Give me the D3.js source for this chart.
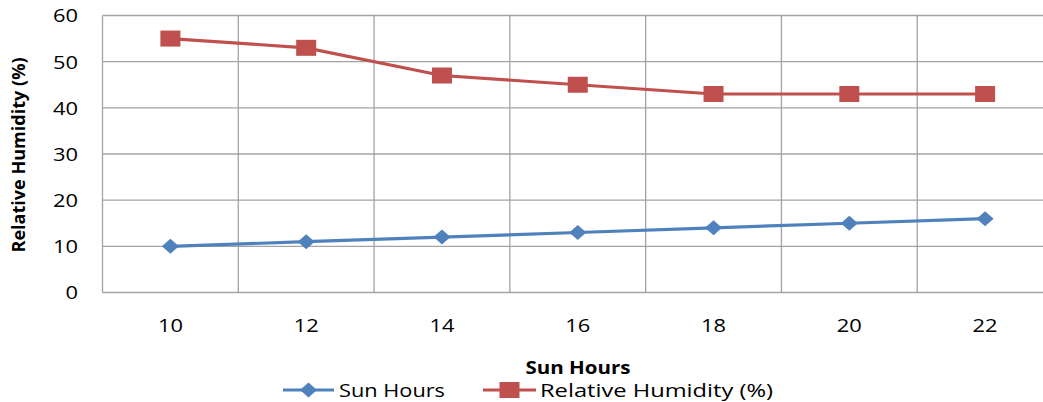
<!DOCTYPE html>
<html>
<head>
<meta charset="utf-8">
<script src="https://cdn.jsdelivr.net/npm/d3@7"></script>
<style>
  body { margin: 0; background: #fff; }
  text { font-family: "Open Sans", "DejaVu Sans", sans-serif; fill: #000; }
</style>
</head>
<body>
<div id="chart"></div>
<script>
const width = 1043;
const height = 402;

// data
const categories = ["10", "12", "14", "16", "18", "20", "22"];
const sunHours = [10, 11, 12, 13, 14, 15, 16];
const humidity = [55, 53, 47, 45, 43, 43, 43];
const yTicks = [0, 10, 20, 30, 40, 50, 60];

const margin = {top: 15.5, left: 102.5, bottom: 109.5};
const plotRight = 1053; // plot runs past the right edge of the picture

const svg = d3.select("#chart").append("svg")
    .attr("width", width)
    .attr("height", height);

const x = d3.scaleBand()
    .domain(categories)
    .range([margin.left, plotRight]);

const y = d3.scaleLinear()
    .domain([0, 60])
    .range([height - margin.bottom, margin.top]);

const grid = svg.append("g")
    .attr("stroke", "#a3a3a3")
    .attr("stroke-width", 1.3);

// horizontal gridlines
grid.selectAll(".h")
    .data(yTicks)
    .join("line")
    .attr("x1", margin.left)
    .attr("x2", plotRight)
    .attr("y1", d => y(d))
    .attr("y2", d => y(d));

// vertical lines between categories (and the left axis)
grid.selectAll(".v")
    .data(categories)
    .join("line")
    .attr("x1", d => x(d))
    .attr("x2", d => x(d))
    .attr("y1", y(60))
    .attr("y2", y(0));

// the original text is a wide, stretched face: widen glyphs to match
const stretch = (sel, w) => sel.attr("textLength", w).attr("lengthAdjust", "spacingAndGlyphs");

// y tick labels
svg.append("g").selectAll("text")
    .data(yTicks)
    .join("text")
    .attr("x", 78)
    .attr("y", d => y(d))
    .attr("dy", "0.36em")
    .attr("text-anchor", "end")
    .style("font-size", "19px")
    .text(d => d)
    .call(stretch, d => String(d).length * 12.5);

// x tick labels
svg.append("g").selectAll("text")
    .data(categories)
    .join("text")
    .attr("x", d => x(d) + x.bandwidth() / 2)
    .attr("y", 325)
    .attr("dy", "0.36em")
    .attr("text-anchor", "middle")
    .style("font-size", "19px")
    .text(d => d)
    .call(stretch, 25);

// axis titles
svg.append("text")
    .attr("x", 578)
    .attr("y", 368)
    .attr("dy", "0.36em")
    .attr("text-anchor", "middle")
    .style("font-size", "18px")
    .style("font-weight", "bold")
    .text("Sun Hours")
    .call(stretch, 105);

svg.append("text")
    .attr("transform", "translate(19,155) rotate(-90)")
    .attr("dy", "0.36em")
    .attr("text-anchor", "middle")
    .style("font-size", "17px")
    .style("font-weight", "bold")
    .text("Relative Humidity (%)")
    .call(stretch, 195);

const cx = d => x(d) + x.bandwidth() / 2;
const line = d3.line().x(d => cx(d.c)).y(d => y(d.v));

const blue = "#4f81bd";
const red = "#c0504d";

const sunData = categories.map((c, i) => ({c, v: sunHours[i]}));
const humData = categories.map((c, i) => ({c, v: humidity[i]}));

const diamond = (w, h) => `M${-w/2},0L0,${-h/2}L${w/2},0L0,${h/2}Z`;

// Sun Hours series
svg.append("path")
    .datum(sunData)
    .attr("fill", "none")
    .attr("stroke", blue)
    .attr("stroke-width", 3.2)
    .attr("d", line);
svg.append("g").selectAll("path")
    .data(sunData)
    .join("path")
    .attr("transform", d => `translate(${cx(d.c)},${y(d.v)})`)
    .attr("d", diamond(17, 15))
    .attr("fill", blue);

// Relative Humidity series
svg.append("path")
    .datum(humData)
    .attr("fill", "none")
    .attr("stroke", red)
    .attr("stroke-width", 3.2)
    .attr("d", line);
svg.append("g").selectAll("rect")
    .data(humData)
    .join("rect")
    .attr("x", d => cx(d.c) - 10)
    .attr("y", d => y(d.v) - 8)
    .attr("width", 20)
    .attr("height", 16)
    .attr("fill", red);

// legend
const legendY = 390;
const lg = svg.append("g");
lg.append("line")
    .attr("x1", 283).attr("x2", 334)
    .attr("y1", legendY).attr("y2", legendY)
    .attr("stroke", blue).attr("stroke-width", 3.2);
lg.append("path")
    .attr("transform", `translate(308.5,${legendY})`)
    .attr("d", diamond(17, 15))
    .attr("fill", blue);
lg.append("text")
    .attr("x", 339).attr("y", legendY)
    .attr("dy", "0.36em")
    .style("font-size", "19px")
    .text("Sun Hours")
    .call(stretch, 106);

lg.append("line")
    .attr("x1", 483).attr("x2", 536)
    .attr("y1", legendY).attr("y2", legendY)
    .attr("stroke", red).attr("stroke-width", 3.2);
lg.append("rect")
    .attr("x", 499.5).attr("y", legendY - 8)
    .attr("width", 20).attr("height", 16)
    .attr("fill", red);
lg.append("text")
    .attr("x", 540).attr("y", legendY)
    .attr("dy", "0.36em")
    .style("font-size", "19px")
    .text("Relative Humidity (%)")
    .call(stretch, 233);
</script>
</body>
</html>
